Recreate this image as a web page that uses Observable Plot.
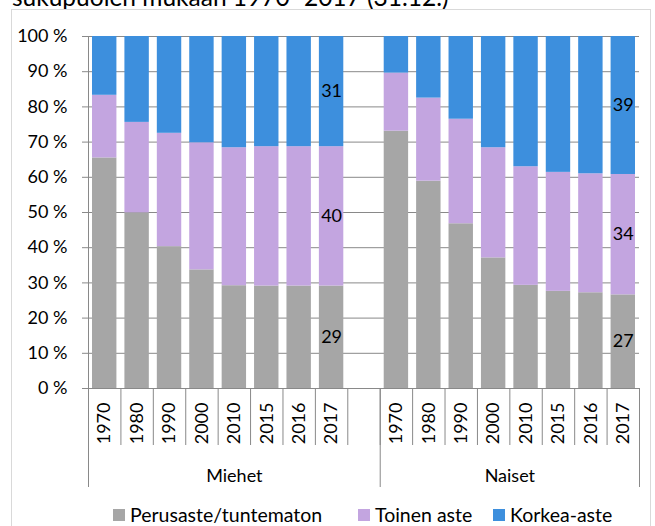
<!DOCTYPE html>
<html>
<head>
<meta charset="utf-8">
<script src="https://cdn.jsdelivr.net/npm/d3@7"></script>
<script src="https://cdn.jsdelivr.net/npm/@observablehq/plot@0.6"></script>
<style>
  html, body { margin: 0; padding: 0; background: #fff; }
  #wrap { position: relative; width: 655px; height: 526px; overflow: hidden; font-family: Lato, sans-serif; }
  #title { position: absolute; left: 12px; top: -15px; font-size: 24.5px; line-height: 1; color: #000; white-space: nowrap; }
  #frame { position: absolute; left: 11px; top: 9px; width: 638px; height: 600px; border: 1px solid #d9d9d9; pointer-events: none; }
  #chart { position: absolute; left: 0; top: 0; }
  #legend { position: absolute; top: 505px; left: 0; font-size: 19.5px; line-height: 1; color: #000; }
  .item { position: absolute; white-space: nowrap; }
  .sw { position: absolute; width: 12px; height: 12px; top: 4px; }
  .lbl { position: absolute; white-space: nowrap; }
</style>
</head>
<body>
<div id="wrap">
  <div id="title">sukupuolen mukaan 1970–2017 (31.12.)</div>
  <div id="chart"></div>
  <div id="frame"></div>
  <div id="legend"></div>
</div>
<script>
// ---- data ----
const years = ["1970", "1980", "1990", "2000", "2010", "2015", "2016", "2017"];
const groups = ["Miehet", "Naiset"];
const levels = ["Perusaste/tuntematon", "Toinen aste", "Korkea-aste"];
const colors = ["#a6a6a6", "#c3a5e0", "#3d8fdd"];

const perusasteMiehet = [65.5, 49.9, 40.3, 33.7, 29.2, 29.1, 29.1, 29.1];
const toinenMiehet    = [17.8, 25.7, 32.2, 36.1, 39.2, 39.6, 39.6, 39.6];
const korkeaMiehet    = [16.7, 24.4, 27.5, 30.2, 31.6, 31.3, 31.3, 31.3];

const perusasteNaiset = [73.1, 58.9, 46.8, 37.1, 29.3, 27.6, 27.2, 26.6];
const toinenNaiset    = [16.5, 23.6, 29.7, 31.3, 33.7, 33.8, 33.8, 34.2];
const korkeaNaiset    = [10.4, 17.5, 23.5, 31.6, 37.0, 38.6, 39.0, 39.2];

const yTicks = [0, 10, 20, 30, 40, 50, 60, 70, 80, 90, 100];
const labelYear = "2017";

// ---- build table ----
const seriesByGroup = [
  [perusasteMiehet, toinenMiehet, korkeaMiehet],
  [perusasteNaiset, toinenNaiset, korkeaNaiset]
];
const slotsPerGroup = years.length + 1; // blank category after Miehet
const nSlots = groups.length * slotsPerGroup - 1;
const rows = [];
groups.forEach((g, gi) => {
  years.forEach((yr, yi) => {
    const slot = gi * slotsPerGroup + yi;
    levels.forEach((lv, li) => {
      rows.push({group: g, year: yr, level: lv, value: seriesByGroup[gi][li][yi], slot, slotEnd: slot + 1, mid: slot + 0.5});
    });
  });
});
const yearAtMid = new Map(rows.map(d => [d.mid, d.year]));
const yearMids = Array.from(yearAtMid.keys());
const boundaries = d3.range(nSlots + 1);
const groupEdges = [0, slotsPerGroup, nSlots];
const groupMids = [slotsPerGroup / 2, (slotsPerGroup + nSlots) / 2];
const groupAtMid = new Map(groupMids.map((m, i) => [m, groups[i]]));

const gray = "#898989";

const plot = Plot.plot({
  width: 655,
  height: 526,
  marginLeft: 88,
  marginRight: 16,
  marginTop: 36,
  marginBottom: 138,
  style: {fontFamily: "Lato, sans-serif", fontSize: "18px", color: "#000", background: "transparent"},
  x: {type: "linear", domain: [0, nSlots]},
  y: {domain: [0, 100]},
  color: {domain: levels, range: colors},
  marks: [
    Plot.gridY({ticks: yTicks, stroke: gray, strokeOpacity: 1}),
    Plot.rectY(rows, Plot.stackY({x: "slot", x1: "slot", x2: "slotEnd", y: "value", fill: "level", insetLeft: 4, insetRight: 4})),
    Plot.text(rows, Plot.stackY({x: "mid", y: "value", text: d => Math.round(d.value), filter: d => d.year === labelYear, fill: "#000", fontSize: 18})),
    Plot.ruleX([0], {stroke: gray}),
    Plot.ruleY([0], {stroke: gray}),
    Plot.axisY({ticks: yTicks, tickFormat: d => d + " %", tickSize: 6, tickPadding: 15, stroke: gray, fill: "#000", fontSize: 18, label: null}),
    Plot.axisX({ticks: boundaries, tickSize: 57, tickFormat: () => "", stroke: gray, label: null}),
    Plot.axisX({ticks: groupEdges, tickSize: 99, tickFormat: () => "", stroke: gray, label: null}),
    Plot.axisX({ticks: yearMids, tickSize: 0, tickPadding: 14, tickRotate: -90, tickFormat: d => yearAtMid.get(d), fill: "#000", fontSize: 18, label: null}),
    Plot.axisX({ticks: groupMids, tickSize: 0, tickPadding: 81, tickFormat: d => groupAtMid.get(d), fill: "#000", fontSize: 18, label: null})
  ]
});
document.getElementById("chart").appendChild(plot);

// ---- legend ----
const legendPos = [113, 358, 493];
const legend = document.getElementById("legend");
levels.forEach((lv, i) => {
  const item = document.createElement("div");
  item.className = "item";
  item.style.left = legendPos[i] + "px";
  const sw = document.createElement("div");
  sw.className = "sw";
  sw.style.left = "0px";
  sw.style.background = colors[i];
  const lb = document.createElement("div");
  lb.className = "lbl";
  lb.style.left = "17px";
  lb.textContent = lv;
  item.appendChild(sw);
  item.appendChild(lb);
  legend.appendChild(item);
});
</script>
</body>
</html>
